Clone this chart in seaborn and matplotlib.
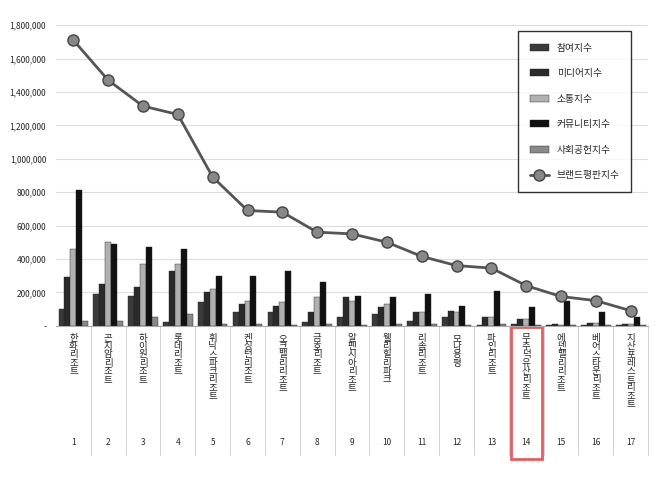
import matplotlib.pyplot as plt
import seaborn as sns
import pandas as pd
import numpy as np
from matplotlib.patches import Rectangle

names = ["한화리조트", "곤지암리조트", "하이원리조트", "롯데리조트", "휘닉스파크리조트", "켄싱턴리조트",
         "오크밸리리조트", "금호리조트", "알펜시아리조트", "웰리힐리파크", "리솜리조트", "모나용평",
         "파인리조트", "무주덕유산리조트", "에덴밸리리조트", "베어스타운리조트", "지산포레스트리조트"]
participation = [100, 190, 180, 20, 140, 80, 80, 20, 50, 70, 30, 50, 5, 10, 5, 5, 5]
media = [290, 250, 230, 330, 200, 130, 120, 80, 170, 110, 80, 90, 50, 40, 10, 15, 10]
communication = [460, 500, 370, 370, 220, 150, 140, 170, 150, 130, 80, 80, 50, 40, 5, 15, 10]
community = [810, 490, 470, 460, 300, 300, 330, 260, 180, 170, 190, 120, 210, 110, 150, 80, 50]
social = [30, 30, 50, 70, 10, 10, 5, 10, 5, 10, 10, 5, 10, 5, 3, 3, 3]
brand = [1710, 1470, 1315, 1265, 890, 690, 680, 560, 550, 500, 415, 360, 345, 240, 175, 150, 90]
series = ["참여지수", "미디어지수", "소통지수", "커뮤니티지수", "사회공헌지수"]
colors = ["#3a3a3a", "#2a2a2a", "#b0b0b0", "#111111", "#8a8a8a"]

sns.set_style("white")
plt.rcParams["font.family"] = ["Noto Sans CJK KR", "DejaVu Sans"]

rows = []
for s, vals in zip(series, [participation, media, communication, community, social]):
    for i, v in enumerate(vals):
        rows.append({"idx": str(i + 1), "series": s, "value": v * 1000})
df = pd.DataFrame(rows)

fig = plt.figure(figsize=(6.58, 4.79), dpi=100)
ax = fig.add_axes([0.085, 0.32, 0.9, 0.645])
sns.barplot(data=df, x="idx", y="value", hue="series", palette=colors, ax=ax,
            width=0.85, edgecolor="#222222", linewidth=0.3)
x = np.arange(len(names))
ax.plot(x, np.array(brand) * 1000, color="#555555", lw=2, marker="o", ms=8,
        mfc="#888888", mec="#444444", label="브랜드평판지수", zorder=5)
ax.set_ylim(0, 1850000)
ax.set_xlim(-0.5, len(names) - 0.5)
ax.set_yticks(range(0, 1800001, 200000))
ax.set_yticklabels(["-"] + [f"{v:,}" for v in range(200000, 1800001, 200000)], fontsize=6)
ax.yaxis.grid(True, color="#dddddd", lw=0.8)
for s in ["top", "right", "left"]:
    ax.spines[s].set_visible(False)
ax.spines["bottom"].set_color("#aaaaaa")
ax.set_xlabel("")
ax.set_ylabel("")
ax.set_xticks(x)
ax.set_xticklabels([])
ax.tick_params(axis="x", length=0)
for i, n in enumerate(names):
    ax.text(i, -50000, "\n".join(n), ha="center", va="top", fontsize=6.8, linespacing=0.88)
    ax.text(i, -700000, str(i + 1), ha="center", va="center", fontsize=6)
    ax.axvline(i + 0.5, ymin=-0.42, ymax=0, color="#cccccc", lw=0.6, clip_on=False)
ax.add_patch(Rectangle((12.55, -800000), 0.9, 795000, fill=False, ec="#e06060", lw=2, clip_on=False))
leg = ax.legend(loc="upper right", fontsize=7, frameon=True, fancybox=False,
                edgecolor="black", labelspacing=1.6, borderpad=1.2, bbox_to_anchor=(0.98, 0.97))
leg.get_frame().set_linewidth(1)
fig.savefig("out.png", dpi=100)
